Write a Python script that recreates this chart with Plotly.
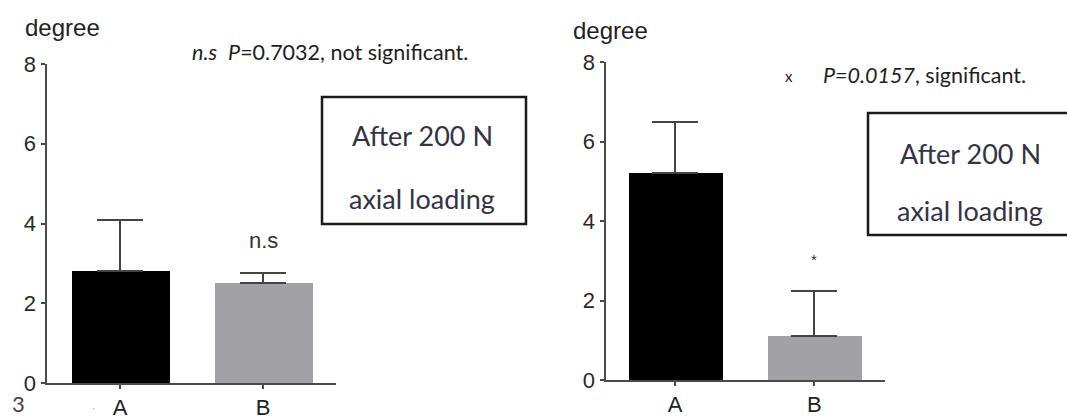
import plotly.graph_objects as go

# Group labels and measured rotation (degree) per group
categories = ["A", "B"]
left_means = [2.8, 2.5]
left_sd = [1.28, 0.27]
right_means = [5.2, 1.1]
right_sd = [1.3, 1.13]
y_ticks = [0, 2, 4, 6, 8]

W, H = 1067, 420


def px(x):
    return x / W


def py(y):
    return 1 - y / H


bar_colors = ["#000000", "#a2a2a6"]
axis_color = "#4a4a4a"
sans = "Liberation Sans, Arial, sans-serif"
body = "Lato, Open Sans, sans-serif"

fig = go.Figure()

fig.add_trace(go.Bar(
    x=categories, y=left_means, width=0.685,
    marker=dict(color=bar_colors, line=dict(width=0)),
    error_y=dict(type="data", symmetric=False, array=left_sd, arrayminus=[0, 0],
                 color="#444444", thickness=2, width=23),
    xaxis="x", yaxis="y", showlegend=False,
))
fig.add_trace(go.Bar(
    x=categories, y=right_means, width=0.676,
    marker=dict(color=bar_colors, line=dict(width=0)),
    error_y=dict(type="data", symmetric=False, array=right_sd, arrayminus=[0, 0],
                 color="#444444", thickness=2, width=23),
    xaxis="x2", yaxis="y2", showlegend=False,
))

xcommon = dict(showline=True, linecolor=axis_color, linewidth=2, ticks="outside",
               ticklen=4, tickwidth=2, tickcolor=axis_color, showgrid=False,
               zeroline=False, automargin=False,
               tickfont=dict(family=sans, size=22, color="#222222"),
               fixedrange=True)
ycommon = dict(showline=True, linecolor=axis_color, linewidth=2, ticks="outside",
               ticklen=4, tickwidth=2, tickcolor=axis_color, showgrid=False,
               zeroline=False, automargin=False, range=[0, 8], tickvals=y_ticks,
               tickfont=dict(family=sans, size=22, color="#2a2a2a"),
               fixedrange=True)

fig.update_layout(
    template="none",
    width=W, height=H, margin=dict(l=0, r=0, t=0, b=0),
    paper_bgcolor="white", plot_bgcolor="rgba(0,0,0,0)",
    bargap=0,
    xaxis=dict(domain=[px(46.5), px(336)], range=[-0.514, 1.51], anchor="y", **xcommon),
    yaxis=dict(domain=[py(383), py(64)], anchor="x", **ycommon),
    xaxis2=dict(domain=[px(605.5), px(884.5)], range=[-0.5, 1.505], anchor="y2", **xcommon),
    yaxis2=dict(domain=[py(380), py(62)], anchor="x2", **ycommon),
)

# Boxed condition labels
for x0, x1, y0, y1 in [(322, 526, 97, 224), (868, 1080, 113, 235)]:
    fig.add_shape(type="rect", xref="paper", yref="paper",
                  x0=px(x0), x1=px(x1), y0=py(y1), y1=py(y0),
                  line=dict(color="#1a1a1a", width=2.5), fillcolor="white", layer="above")

nb = "\u00a0"
annotations = [
    # axis titles
    dict(x=px(23), y=py(28), text="degree", xanchor="left",
         font=dict(family=sans, size=24, color="#222222")),
    dict(x=px(571), y=py(31), text="degree", xanchor="left",
         font=dict(family=sans, size=24, color="#222222")),
    # test results
    dict(x=px(190), y=py(52), xanchor="left",
         text=f"<i>n.s</i>{nb}{nb}<i>P</i>=0.7032, not significant.",
         font=dict(family=body, size=21.5, color="#1e1e1e")),
    dict(x=px(783), y=py(76), xanchor="left", text="x",
         font=dict(family=body, size=15, color="#1e1e1e")),
    dict(x=px(821), y=py(75), xanchor="left",
         text="<i>P=0.0157</i>, significant.",
         font=dict(family=body, size=21.5, color="#1e1e1e")),
    # condition boxes
    dict(x=px(422), y=py(135), text="After 200 N",
         font=dict(family=body, size=27, color="#333344")),
    dict(x=px(422), y=py(198), text="axial loading",
         font=dict(family=body, size=27, color="#333344")),
    dict(x=px(970), y=py(153), text="After 200 N",
         font=dict(family=body, size=27, color="#333344")),
    dict(x=px(970), y=py(210), text="axial loading",
         font=dict(family=body, size=27, color="#333344")),
    # significance marks over group B
    dict(x=px(263), y=py(240), text="n.s",
         font=dict(family=sans, size=22, color="#333333")),
    dict(x=px(814), y=py(259), text="*",
         font=dict(family=sans, size=15, color="#333333")),
    # stray page marks
    dict(x=px(18), y=py(419), yanchor="bottom", text="3",
         font=dict(family=body, size=22, color="#444444")),
    dict(x=px(93), y=py(408), text="·",
         font=dict(family=sans, size=10, color="#999999")),
]
for a in annotations:
    a.setdefault("xref", "paper")
    a.setdefault("yref", "paper")
    a.setdefault("showarrow", False)
    a.setdefault("yanchor", "middle")
    a.setdefault("xanchor", "center")
    fig.add_annotation(**a)

fig.write_html("out.html", config=dict(displayModeBar=False))
